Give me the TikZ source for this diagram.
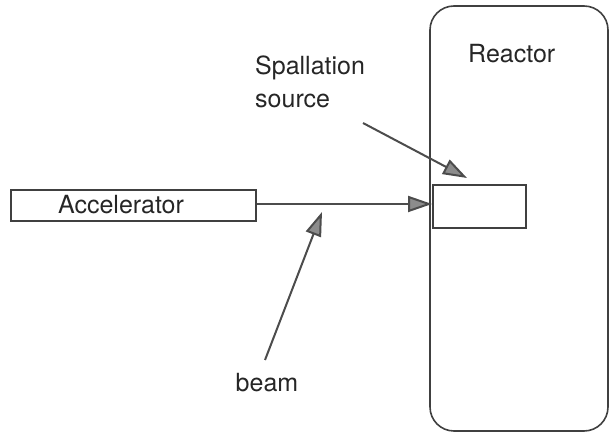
\documentclass[tikz,border=0pt]{standalone}
\usepackage{fontspec}
\setmainfont{TeX Gyre Heros}
\usetikzlibrary{arrows.meta}
\begin{document}
\begin{tikzpicture}[x=1pt,y=-1pt,
  lbl/.style={font=\fontsize{25}{30}\selectfont, text=black!85, inner sep=0pt},
  boxline/.style={draw=black!75, line width=1.6pt},
  arr/.style={draw=black!70, line width=2pt, -{Triangle[length=24pt,width=16pt,fill=black!45]}}]
\useasboundingbox (0,0) rectangle (611,435);
\draw[boxline, rounded corners=24pt] (430,6) rectangle (608,431);
\node[boxline, minimum width=245pt, minimum height=31pt, inner sep=0pt, anchor=north west] (acc) at (10,189) {};
\node[lbl] at (121,205) {Accelerator};
\node[boxline, minimum width=93pt, minimum height=43pt, inner sep=0pt, anchor=north west] (sp) at (432,184) {};
\node[lbl, anchor=west] (reac) at (468,54) {Reactor};
\node[lbl, anchor=west] (spl) at (255,68) {Spallation};
\node[lbl, anchor=west] (src) at (255,101) {source};
\node[lbl] (beam) at (267,383) {beam};
\coordinate (bs) at (265,360);
\coordinate (bt) at (322,212);
\coordinate (ss) at (363,123);
\coordinate (st) at (467,178);
\draw[arr] (acc.east |- 0,204) -- (sp.west |- 0,204);
\draw[arr] (bs) -- (bt);
\draw[arr] (ss) -- (st);
\end{tikzpicture}
\end{document}
